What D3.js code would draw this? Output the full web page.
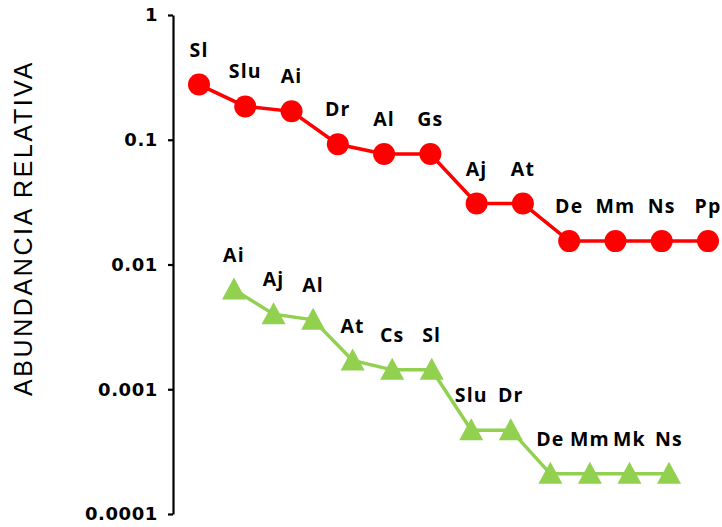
<!DOCTYPE html>
<html>
<head>
<meta charset="utf-8">
<script src="https://cdn.jsdelivr.net/npm/d3@7"></script>
<style>
  html, body { margin: 0; padding: 0; background: #fff; }
  svg { display: block; }
</style>
</head>
<body>
<svg id="chart" width="722" height="527"></svg>
<script>
// ---- data ----
const redCategories = ["Sl","Slu","Ai","Dr","Al","Gs","Aj","At","De","Mm","Ns","Pp"];
const redValues = [0.277, 0.185, 0.169, 0.092, 0.0769, 0.0769, 0.0308, 0.0308, 0.0154, 0.0154, 0.0154, 0.0154];
const greenCategories = ["Ai","Aj","Al","At","Cs","Sl","Slu","Dr","De","Mm","Mk","Ns"];
const greenValues = [0.0063, 0.0040, 0.0036, 0.0017, 0.00143, 0.00143, 0.00047, 0.00047, 0.00021, 0.00021, 0.00021, 0.00021];
const tickValues = [1, 0.1, 0.01, 0.001, 0.0001];
const tickLabels = ["1", "0.1", "0.01", "0.001", "0.0001"];
const yTitle = "ABUNDANCIA RELATIVA";

// ---- layout ----
const svg = d3.select("#chart");
const axisX = 173;
const y = d3.scaleLog().domain([0.0001, 1]).range([514, 15]);
const xRed = d3.scalePoint().domain(redCategories).range([199, 708]);
const xGreen = d3.scalePoint().domain(greenCategories).range([234, 669]);

// y axis
const yAxis = d3.axisLeft(y)
  .tickValues(tickValues)
  .tickFormat((d, i) => tickLabels[i])
  .tickSizeInner(5)
  .tickSizeOuter(0)
  .tickPadding(10);
const gAxis = svg.append("g").attr("transform", `translate(${axisX},0)`).call(yAxis);
gAxis.select(".domain").attr("stroke", "#000").attr("stroke-width", 2.2);
gAxis.selectAll(".tick line").attr("stroke", "#000").attr("stroke-width", 2.2);
gAxis.selectAll(".tick text")
  .attr("fill", "#000")
  .style("font-family", "'DejaVu Sans', sans-serif")
  .style("font-weight", "bold")
  .style("font-size", "18px")
  .style("letter-spacing", "0.6px");

// y title
svg.append("text")
  .attr("transform", `translate(32,228) rotate(-90)`)
  .attr("text-anchor", "middle")
  .style("font-family", "'Liberation Sans', Arial, sans-serif")
  .style("font-size", "25px")
  .style("letter-spacing", "2.6px")
  .attr("fill", "#000")
  .text(yTitle);

const labelFont = "'Open Sans', sans-serif";
const labelSize = "19.5px";
const labelSpacing = "1.2px";

// red series
const redData = redCategories.map((c, i) => ({c, v: redValues[i]}));
svg.append("path")
  .datum(redData)
  .attr("fill", "none")
  .attr("stroke", "#FF0000")
  .attr("stroke-width", 3.5)
  .attr("d", d3.line().x(d => xRed(d.c)).y(d => y(d.v)));
svg.append("g").selectAll("circle").data(redData).join("circle")
  .attr("cx", d => xRed(d.c)).attr("cy", d => y(d.v)).attr("r", 11)
  .attr("fill", "#FF0000");
svg.append("g").selectAll("text").data(redData).join("text")
  .attr("x", d => xRed(d.c)).attr("y", d => y(d.v) - 28)
  .attr("text-anchor", "middle")
  .style("font-family", labelFont).style("font-weight", "bold")
  .style("font-size", labelSize).style("letter-spacing", labelSpacing)
  .attr("fill", "#000")
  .text(d => d.c);

// green series
const greenData = greenCategories.map((c, i) => ({c, v: greenValues[i]}));
svg.append("path")
  .datum(greenData)
  .attr("fill", "none")
  .attr("stroke", "#92D050")
  .attr("stroke-width", 3.5)
  .attr("d", d3.line().x(d => xGreen(d.c)).y(d => y(d.v)));
svg.append("g").selectAll("path").data(greenData).join("path")
  .attr("transform", d => `translate(${xGreen(d.c)},${y(d.v)})`)
  .attr("d", "M0,-12 L12,10 L-12,10 Z")
  .attr("fill", "#92D050");
svg.append("g").selectAll("text").data(greenData).join("text")
  .attr("x", d => xGreen(d.c)).attr("y", d => y(d.v) - 28)
  .attr("text-anchor", "middle")
  .style("font-family", labelFont).style("font-weight", "bold")
  .style("font-size", labelSize).style("letter-spacing", labelSpacing)
  .attr("fill", "#000")
  .text(d => d.c);
</script>
</body>
</html>
